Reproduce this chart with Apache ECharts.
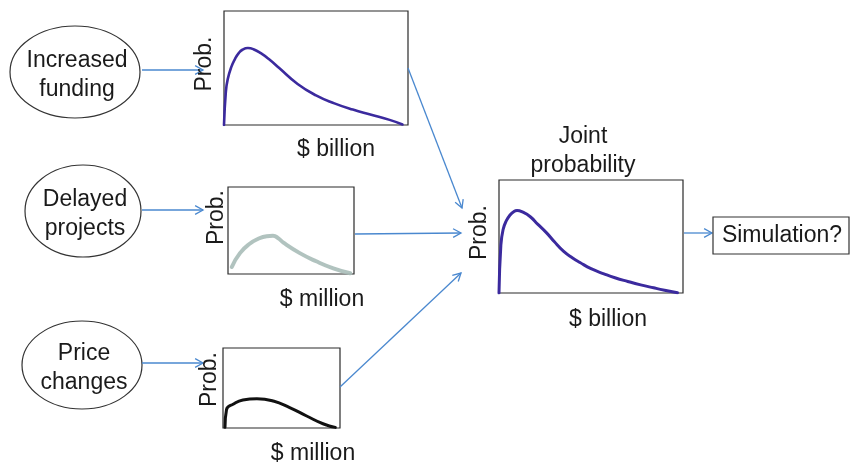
<!DOCTYPE html>
<html>
<head>
<meta charset="utf-8">
<script src="https://cdn.jsdelivr.net/npm/echarts@6/dist/echarts.min.js"></script>
<style>
html,body{margin:0;padding:0;background:#fff;}
#chart{width:851px;height:466px;}
</style>
</head>
<body>
<div id="chart"></div>
<script>
// ---- data (x as % of panel width, y as % of panel height) ----
const fundingX = [0, 1, 2, 4, 6, 8, 10, 13, 16, 20, 25, 30, 40, 50, 60, 70, 80, 90, 97];
const fundingY = [0, 29, 40, 51, 58, 63, 66, 67.5, 66.5, 63, 57, 50, 36, 26, 19, 13.5, 9, 4.5, 0.5];

const delayX = [3, 9.5, 17.5, 24, 30.7, 35.7, 40, 44, 57, 70, 83.6, 97];
const delayY = [8, 24, 35, 40.5, 43.5, 44, 41, 36, 24, 14.6, 6.5, 0.8];

const priceX = [1.7, 3, 9, 17, 29, 43, 57, 71.5, 86, 96];
const priceY = [0.8, 23, 30, 35, 36.6, 33.7, 25.5, 15, 5, 0.8];

const jointX = [0, 1, 2.2, 4, 6, 8, 9.8, 13, 17, 21, 26, 30, 35, 40, 44, 50, 57, 63, 70, 77, 84, 90, 97];
const jointY = [0, 42, 56, 64, 69, 72, 73, 71.5, 67.5, 61, 53, 45.5, 37, 31, 27, 21.5, 17, 13.5, 10.2, 7.2, 4.6, 2.5, 0.3];

const driverLabels = ['Increased\nfunding', 'Delayed\nprojects', 'Price\nchanges'];
const xNames = ['$ billion', '$ million', '$ million', '$ billion'];
const yName = 'Prob.';
const jointTitle = 'Joint\nprobability';
const outputLabel = 'Simulation?';

// ---- layout ----
const FONT = '"Liberation Sans", Arial, sans-serif';
const FS = 23;
const TXT = '#1a1a1a';
const ARROW = '#4a88cf';

const grids = [
  {left: 224, top: 11, width: 184, height: 114},
  {left: 228, top: 187, width: 126, height: 87},
  {left: 223, top: 348, width: 117, height: 81},
  {left: 499, top: 180, width: 184, height: 113}
];
// name placement tweaks
const xNameShift = [40, 62, 63, 34];
const xNameGap = [13, 14, 14, 15];
const yNameShift = [8, 26, 17, 8];
const yNameGap = [8, 0, 2, 8];

function pairs(xs, ys) { return xs.map((x, i) => [x, ys[i]]); }

const xAxes = grids.map((g, i) => ({
  type: 'value', gridIndex: i, min: 0, max: 100,
  axisLine: {show: false}, axisTick: {show: false}, axisLabel: {show: false}, splitLine: {show: false},
  name: xNames[i], nameLocation: 'middle', nameGap: xNameGap[i],
  nameTextStyle: {fontSize: FS, fontFamily: FONT, color: TXT, padding: [0, 0, 0, xNameShift[i]]}
}));
const yAxes = grids.map((g, i) => ({
  type: 'value', gridIndex: i, min: 0, max: 100,
  axisLine: {show: false}, axisTick: {show: false}, axisLabel: {show: false}, splitLine: {show: false},
  name: yName, nameLocation: 'middle', nameRotate: 90, nameGap: yNameGap[i],
  nameTextStyle: {fontSize: FS, fontFamily: FONT, color: TXT, padding: [0, 0, 0, yNameShift[i]]}
}));

function curve(i, xs, ys, color, width, opacity) {
  return {
    type: 'line', xAxisIndex: i, yAxisIndex: i, data: pairs(xs, ys),
    smooth: 0.5, showSymbol: false, silent: true,
    lineStyle: {color: color, width: width, opacity: opacity, cap: 'round', join: 'round'}
  };
}

function arrow(x1, y1, x2, y2) {
  const a = Math.atan2(y2 - y1, x2 - x1);
  const L = 9, W = 0.5;
  const p1 = [x2 - L * Math.cos(a - W), y2 - L * Math.sin(a - W)];
  const p2 = [x2 - L * Math.cos(a + W), y2 - L * Math.sin(a + W)];
  return [
    {type: 'line', shape: {x1: x1, y1: y1, x2: x2, y2: y2}, style: {stroke: ARROW, lineWidth: 1.3}},
    {type: 'polyline', shape: {points: [p1, [x2, y2], p2]}, style: {stroke: ARROW, lineWidth: 1.3, fill: null}}
  ];
}

function text(str, x, y) {
  return {type: 'text', x: x, y: y, style: {text: str, font: FS + 'px ' + FONT, fill: TXT,
    align: 'center', verticalAlign: 'middle', lineHeight: 29}};
}

const ellipses = [
  {cx: 75, cy: 72, rx: 65, ry: 46},
  {cx: 83, cy: 211, rx: 58, ry: 46},
  {cx: 82, cy: 365, rx: 60, ry: 44}
];

const graphics = [];
ellipses.forEach((e, i) => {
  graphics.push({type: 'ellipse', shape: e, style: {fill: '#fff', stroke: '#333', lineWidth: 1.2}});
  graphics.push(text(driverLabels[i], e.cx + 2, e.cy + 3));
});
[[142, 70, 203, 70], [142, 210, 203, 210], [142, 363, 203, 363],
 [408, 68, 462, 208], [355, 234, 461, 233], [340, 387, 461, 273], [684, 233, 712, 233]]
  .forEach(a => arrow.apply(null, a).forEach(g => graphics.push(g)));
graphics.push({type: 'rect', shape: {x: 713, y: 217, width: 136, height: 37}, style: {fill: '#fff', stroke: '#333', lineWidth: 1.2}});
graphics.push(text(outputLabel, 782, 236));
graphics.push(text(jointTitle, 583, 151));

const chart = echarts.init(document.getElementById('chart'), null, {renderer: 'canvas'});
chart.setOption({
  backgroundColor: '#fff',
  animation: false,
  grid: grids.map(g => Object.assign({show: true, borderColor: '#2a2a2a', borderWidth: 1.2, backgroundColor: 'transparent'}, g)),
  xAxis: xAxes,
  yAxis: yAxes,
  series: [
    curve(0, fundingX, fundingY, '#3b2a9e', 2.6, 1),
    curve(1, delayX, delayY, '#a9bdb8', 4, 0.9),
    curve(2, priceX, priceY, '#111111', 3, 1),
    curve(3, jointX, jointY, '#3b2a9e', 3, 1)
  ],
  graphic: graphics
});
</script>
</body>
</html>
